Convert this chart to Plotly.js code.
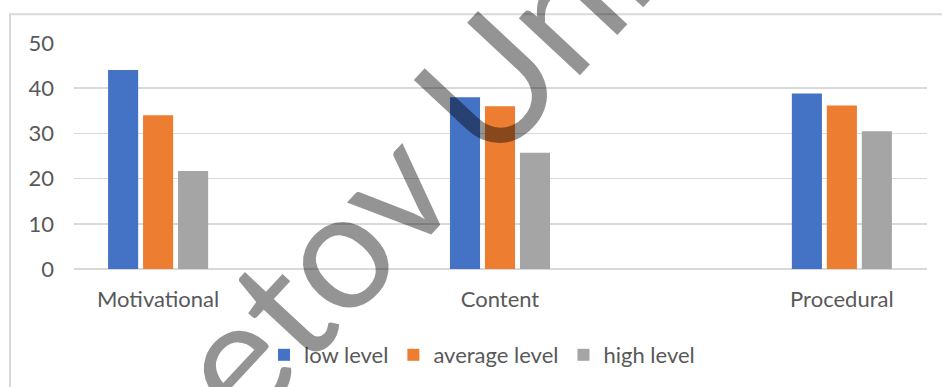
<!DOCTYPE html>
<html>
<head>
<meta charset="utf-8">
<script src="https://cdn.plot.ly/plotly-3.0.1.min.js"></script>
<style>
html,body{margin:0;padding:0;background:#fff;}
#chart{width:942px;height:387px;}
</style>
</head>
<body>
<div id="chart"></div>
<script>
const categories = ['Motivational', 'Content', 'Procedural'];
const seriesNames = ['low level', 'average level', 'high level'];
const lowLevel = [44, 38, 38.8];
const averageLevel = [34, 36, 36.2];
const highLevel = [21.7, 25.7, 30.5];
const yTicks = [0, 10, 20, 30, 40, 50];
const watermarkText = 'etov Uni';

const colors = ['#4472c4', '#ed7d31', '#a5a5a5'];
const values = [lowLevel, averageLevel, highLevel];

const W = 942, H = 387;
const L = 74, R = 15, T = 43, B = 117;
const pw = W - L - R, ph = H - T - B;
const px = X => (X - L) / pw;
const py = Y => (H - B - Y) / ph;

const traces = values.map((v, i) => ({
  type: 'bar',
  name: seriesNames[i],
  x: categories,
  y: v,
  marker: {color: colors[i]},
  hoverinfo: 'none'
}));

const font = 'Lato, "Open Sans", sans-serif';

const layout = {
  width: W, height: H,
  margin: {l: L, r: R, t: T, b: B, pad: 0},
  paper_bgcolor: '#ffffff',
  plot_bgcolor: '#ffffff',
  barmode: 'group',
  bargap: 0.693,
  bargroupgap: 0.14,
  showlegend: true,
  legend: {
    orientation: 'h',
    x: px(482), xanchor: 'center',
    y: py(355), yanchor: 'middle',
    font: {family: font, size: 22, color: '#595959'},
    itemclick: false, itemdoubleclick: false
  },
  xaxis: {
    type: 'category',
    range: [-0.246, 2.249],
    showgrid: false,
    showline: false,
    zeroline: false,
    ticks: '',
    tickfont: {family: font, size: 22, color: '#595959'},
    ticklabelstandoff: 15
  },
  yaxis: {
    range: [0, 50],
    tickvals: yTicks,
    ticktext: yTicks.map(String),
    showgrid: true,
    gridcolor: '#d9d9d9',
    gridwidth: 1.5,
    zeroline: true,
    zerolinecolor: '#d9d9d9',
    zerolinewidth: 1.5,
    showline: false,
    ticks: '',
    tickfont: {family: font, size: 22, color: '#595959'},
    ticklabelstandoff: 19
  },
  shapes: [{
    type: 'rect', xref: 'paper', yref: 'paper',
    x0: px(10), x1: px(960), y0: py(400), y1: py(14),
    line: {color: '#d9d9d9', width: 2},
    fillcolor: 'rgba(0,0,0,0)',
    layer: 'below'
  }],
  annotations: [{
    text: watermarkText,
    xref: 'paper', yref: 'paper',
    x: px(407), y: py(168),
    xanchor: 'center', yanchor: 'middle',
    showarrow: false,
    textangle: -47,
    font: {family: font, size: 165, color: 'rgba(0,0,0,0.42)'}
  }]
};

Plotly.newPlot('chart', traces, layout, {displayModeBar: false, staticPlot: true});
</script>
</body>
</html>
